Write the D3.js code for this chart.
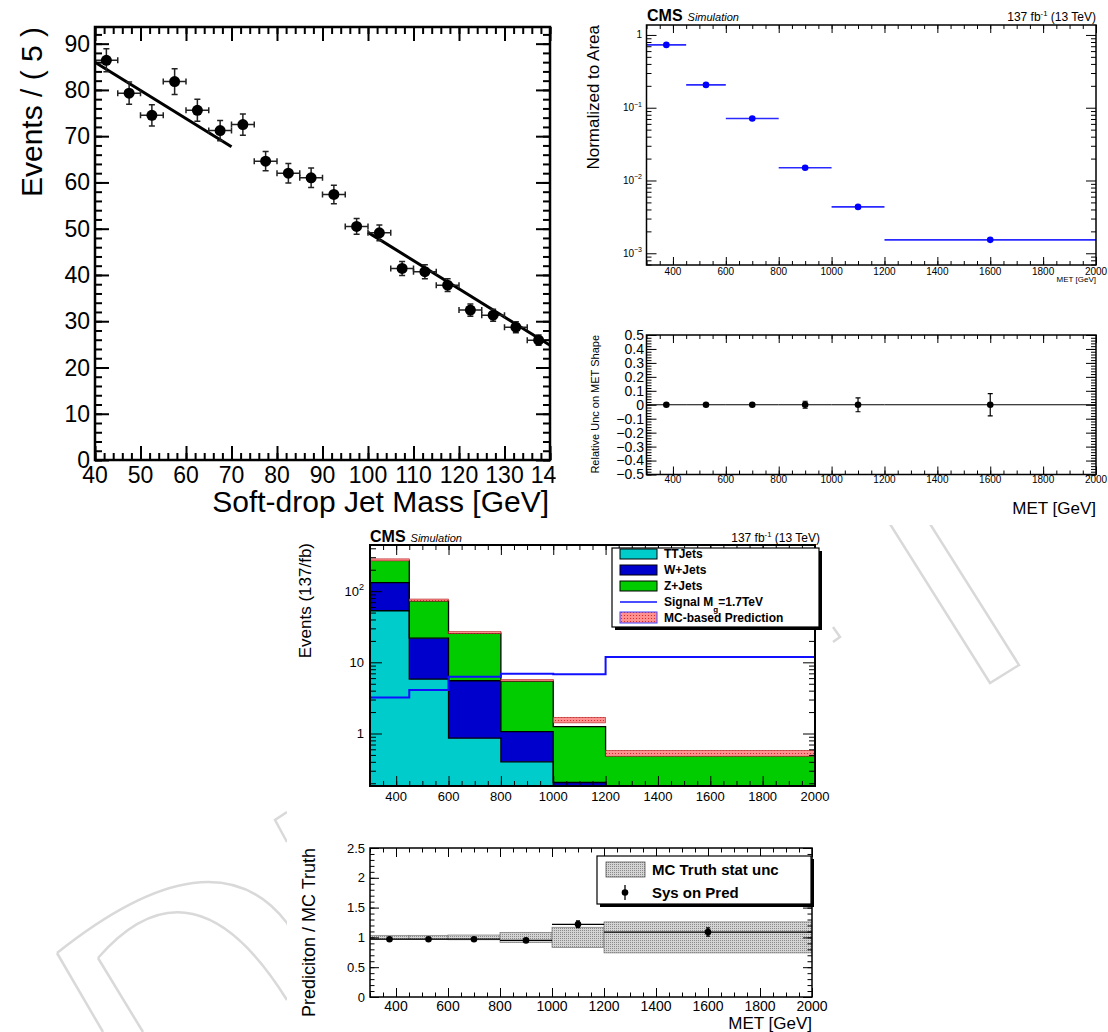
<!DOCTYPE html>
<html>
<head>
<meta charset="utf-8">
<script src="https://cdn.jsdelivr.net/npm/d3@7"></script>
<style>
  body { margin: 0; background: #fff; }
  svg { font-family: "Liberation Sans", Arial, Helvetica, sans-serif; }
</style>
</head>
<body>
<div id="chart"></div>
<script>
// ---------- data ----------
// top-left: soft-drop jet mass, 5 GeV bins
const massCenters = [42.5,47.5,52.5,57.5,62.5,67.5,72.5,77.5,82.5,87.5,92.5,97.5,102.5,107.5,112.5,117.5,122.5,127.5,132.5,137.5];
const massEvents  = [86.4,79.3,74.5,81.8,75.6,71.2,72.5,64.6,62.0,61.0,57.4,50.5,49.1,41.4,40.7,37.8,32.4,31.3,28.7,25.9];
const massErr     = [2.5,2.4,2.3,2.8,2.4,2.2,2.3,2.1,2.1,2.1,2.0,1.7,1.7,1.5,1.5,1.4,1.3,1.3,1.2,1.1];
const fitLow  = [[40, 86.0], [70, 67.7]];
const fitHigh = [[100, 49.2], [140, 24.8]];

// MET binning shared by the other panels
const metEdges   = [300, 450, 600, 800, 1000, 1200, 2000];
const metCenters = [375, 525, 700, 900, 1100, 1600];

// top-right: normalized MET shape and its relative uncertainty
const metShape = [0.73, 0.206, 0.071, 0.015, 0.00434, 0.00153];
const shapeRel = [0, 0, 0, 0, 0, 0];
const shapeUnc = [0.004, 0.004, 0.005, 0.025, 0.05, 0.08];

// middle: stacked backgrounds, signal and prediction
const ttJets = [53, 5.8, 0.85, 0.39, 0.15, 0.08];
const wJets  = [79, 16, 4.65, 0.66, 0.045, 0.05];
const zJets  = [138, 51, 20.1, 4.4, 1.045, 0.35];
const signal = [3.2, 4.07, 6.27, 6.9, 6.78, 11.9];
const prediction = [275, 75, 26.2, 5.6, 1.55, 0.53];
const predErr    = [9, 2.5, 0.8, 0.15, 0.14, 0.05];

// bottom: ratio
const ratio    = [0.97, 0.97, 0.97, 0.95, 1.22, 1.09];
const ratioErr = [0.01, 0.01, 0.01, 0.01, 0.055, 0.07];
const truthUnc = [0.035, 0.035, 0.04, 0.085, 0.17, 0.26];

const stackNames = ["TTJets", "W+Jets", "Z+Jets"];
const stackColors = ["#00cccc", "#0000cc", "#00cc00"];

// ---------- helpers ----------
const svg = d3.select("#chart").append("svg").attr("width", 1108).attr("height", 1032);
const defs = svg.append("defs");

const red = defs.append("pattern").attr("id", "redHatch").attr("width", 3).attr("height", 3).attr("patternUnits", "userSpaceOnUse");
red.append("rect").attr("width", 3).attr("height", 3).attr("fill", "#ff9090");
red.append("rect").attr("width", 1).attr("height", 1).attr("fill", "#e02828");
const gray = defs.append("pattern").attr("id", "grayHatch").attr("width", 2).attr("height", 2).attr("patternUnits", "userSpaceOnUse");
gray.append("rect").attr("width", 2).attr("height", 2).attr("fill", "#d4d4d4");
gray.append("rect").attr("width", 1).attr("height", 1).attr("fill", "#8a8a8a");

function clip(id, x, y, w, h) {
  defs.append("clipPath").attr("id", id).append("rect").attr("x", x).attr("y", y).attr("width", w).attr("height", h);
  return `url(#${id})`;
}

function frameTicks(g, x, y, o) {
  const [xa, xb] = x.range(), [ya, yb] = y.range();
  const sides = [
    [d3.axisBottom(x), `translate(0,${ya})`, o.xMajor, o.xMinor, o.xLen],
    [d3.axisTop(x), `translate(0,${yb})`, o.xMajor, o.xMinor, o.xLen],
    [d3.axisLeft(y), `translate(${xa},0)`, o.yMajor, o.yMinor, o.yLen],
    [d3.axisRight(y), `translate(${xb},0)`, o.yMajor, o.yMinor, o.yLen]
  ];
  sides.forEach(([ax, tr, maj, min, len]) => {
    [[min, len / 2], [maj, len]].forEach(([vals, l]) => {
      g.append("g").attr("transform", tr)
        .call(ax.tickValues(vals).tickSize(-l).tickFormat(""))
        .call(s => s.select(".domain").remove())
        .selectAll("line").attr("stroke", "#000").attr("stroke-width", o.tw || 1);
    });
  });
  g.append("rect").attr("x", xa).attr("y", yb).attr("width", xb - xa).attr("height", ya - yb)
    .attr("fill", "none").attr("stroke", "#000").attr("stroke-width", o.fw || 1.5);
}

function txt(g, x, y, s, o = {}) {
  return g.append("text").attr("x", x).attr("y", y).text(s)
    .attr("font-size", o.size || 12)
    .attr("text-anchor", o.anchor || "start")
    .attr("dy", o.dy || null)
    .attr("font-weight", o.bold ? "bold" : null)
    .attr("font-style", o.italic ? "italic" : null)
    .attr("transform", o.rot ? `rotate(-90,${x},${y})` : null);
}

function supLabel(g, x, y, base, exp, size) {
  const t = g.append("text").attr("x", x).attr("y", y).attr("text-anchor", "end")
    .attr("font-size", size).attr("dy", "0.35em");
  t.append("tspan").text(base);
  if (exp) t.append("tspan").attr("dy", -size * 0.45).attr("font-size", size * 0.7).text(exp);
}

function logMinors(lo, hi) {
  const out = [];
  for (let e = Math.floor(Math.log10(lo)); e <= Math.ceil(Math.log10(hi)); e++)
    for (let m = 2; m <= 9; m++) { const v = m * Math.pow(10, e); if (v > lo && v < hi) out.push(v); }
  return out;
}

function lumiLabel(g, x, y, size) {
  const t = g.append("text").attr("x", x).attr("y", y).attr("text-anchor", "end").attr("font-size", size);
  t.append("tspan").text("137 fb");
  t.append("tspan").attr("dy", -size * 0.45).attr("font-size", size * 0.65).text("-1");
  t.append("tspan").attr("dy", size * 0.45).text(" (13 TeV)");
}

function cmsLabel(g, x, y) {
  const t = g.append("text").attr("x", x).attr("y", y);
  t.append("tspan").attr("font-size", 16).attr("font-weight", "bold").text("CMS");
  t.append("tspan").attr("font-size", 11).attr("font-style", "italic").attr("dx", 5).text("Simulation");
}

function errorBars(g, x, y, xs, ys, yerr, halfW, cap, opt) {
  xs.forEach((c, i) => {
    const cx = x(c), cy = y(ys[i]);
    const xl = x(c - halfW[i]), xr = x(c + halfW[i]);
    const yt = y(ys[i] + yerr[i]), yb = y(ys[i] - yerr[i]);
    const p = d3.path();
    p.moveTo(xl, cy); p.lineTo(xr, cy);
    p.moveTo(cx, yt); p.lineTo(cx, yb);
    if (cap) {
      p.moveTo(cx - cap, yt); p.lineTo(cx + cap, yt);
      p.moveTo(cx - cap, yb); p.lineTo(cx + cap, yb);
      if (opt.xcap) { p.moveTo(xl, cy - cap); p.lineTo(xl, cy + cap); p.moveTo(xr, cy - cap); p.lineTo(xr, cy + cap); }
    }
    g.append("path").attr("d", p.toString()).attr("fill", "none")
      .attr("stroke", opt.color).attr("stroke-width", opt.width);
    g.append("circle").attr("cx", cx).attr("cy", cy).attr("r", opt.r).attr("fill", opt.fill || opt.color);
  });
}

const binHalf = metEdges.slice(0, -1).map((e, i) => (metEdges[i + 1] - e) / 2);
const stepPts = vals => metEdges.map((e, i) => ({ x: e, v: vals[Math.min(i, vals.length - 1)] }));

// ---------- faint watermark behind the pads ----------
const wm = svg.append("g").attr("fill", "none").attr("stroke", "#d9d9d9").attr("stroke-width", 2.5);
["M57,953 Q214,828 287,923 L320,990", "M98,958 Q193,849 287,1000",
 "M57,953 L103,1032", "M98,958 L143,1032", "M287,812 L275,820 L287,842",
 "M856,470 L990,683 L1019,665 L896,470", "M833,627 L840,637 L833,642"]
  .forEach(d => wm.append("path").attr("d", d));

// white pads
[[0, 0, 556, 524], [560, 0, 548, 525], [287, 525, 545, 290], [287, 815, 545, 217]]
  .forEach(([x, y, w, h]) => svg.append("rect").attr("x", x).attr("y", y).attr("width", w).attr("height", h).attr("fill", "#fff"));

// ---------- panel A: soft-drop jet mass ----------
const gA = svg.append("g").attr("clip-path", clip("padA", 0, 0, 556, 525));
const xA = d3.scaleLinear().domain([40, 140]).range([95, 550]);
const yA = d3.scaleLinear().domain([0, 93.6]).range([460, 27]);
const dataA = gA.append("g").attr("clip-path", clip("frameA", 95, 27, 455, 433));
dataA.selectAll(".fit").data([fitLow, fitHigh]).join("path")
  .attr("d", d3.line().x(d => xA(d[0])).y(d => yA(d[1])))
  .attr("fill", "none").attr("stroke", "#000").attr("stroke-width", 3);
errorBars(dataA, xA, yA, massCenters, massEvents, massErr, massCenters.map(() => 2.5), 3,
  { color: "#222", width: 1.5, r: 5.5, xcap: true, fill: "#000" });
frameTicks(gA, xA, yA, {
  xMajor: d3.range(40, 141, 10), xMinor: d3.range(40, 141, 2),
  yMajor: d3.range(0, 91, 10), yMinor: d3.range(0, 93, 2),
  xLen: 14, yLen: 14, tw: 2, fw: 2.5
});
d3.range(40, 141, 10).forEach(v => txt(gA, xA(v), 483, v, { size: 23, anchor: "middle" }));
d3.range(0, 91, 10).forEach(v => txt(gA, 90, yA(v), v, { size: 23, anchor: "end", dy: "0.35em" }));
txt(gA, 42, 27, "Events / ( 5 )", { size: 30, anchor: "end", rot: true });
txt(gA, 549, 512, "Soft-drop Jet Mass [GeV]", { size: 30, anchor: "end" });

// ---------- panel B: normalized MET shape ----------
const gB = svg.append("g");
const xB = d3.scaleLinear().domain([300, 2000]).range([646.5, 1096]);
const yB = d3.scaleLog().domain([0.00069, 1.37]).range([265, 25]);
const dataB = gB.append("g").attr("clip-path", clip("frameB", 646.5, 25, 449.5, 240));
errorBars(dataB, xB, yB, metCenters, metShape, metShape.map(() => 0), binHalf, 0,
  { color: "#2a2aff", width: 1.6, r: 3.3, fill: "#0000ff" });
frameTicks(gB, xB, yB, {
  xMajor: d3.range(400, 2001, 200), xMinor: d3.range(300, 2001, 50),
  yMajor: [0.001, 0.01, 0.1, 1], yMinor: logMinors(0.00069, 1.37),
  xLen: 8, yLen: 10, tw: 1, fw: 1.5
});
d3.range(400, 2001, 200).forEach(v => txt(gB, xB(v), 275, v, { size: 10, anchor: "middle" }));
[[1, "1", null], [0.1, "10", "−1"], [0.01, "10", "−2"], [0.001, "10", "−3"]]
  .forEach(([v, b, e]) => supLabel(gB, 642, yB(v), b, e, 10));
txt(gB, 599, 25, "Normalized to Area", { size: 17, anchor: "end", rot: true });
txt(gB, 1096, 282, "MET [GeV]", { size: 8, anchor: "end" });
cmsLabel(gB, 647, 21);
lumiLabel(gB, 1096, 21, 12);

// ---------- panel C: relative uncertainty on MET shape ----------
const gC = svg.append("g");
const xC = d3.scaleLinear().domain([300, 2000]).range([646.5, 1096]);
const yC = d3.scaleLinear().domain([-0.5, 0.5]).range([474.5, 335]);
const dataC = gC.append("g").attr("clip-path", clip("frameC", 646.5, 335, 449.5, 139.5));
// horizontal error bars span each full bin
metCenters.forEach((c, i) => {
  dataC.append("line").attr("x1", xC(metEdges[i])).attr("x2", xC(metEdges[i + 1]))
    .attr("y1", yC(shapeRel[i])).attr("y2", yC(shapeRel[i])).attr("stroke", "#000").attr("stroke-width", 1.2);
});
errorBars(dataC, xC, yC, metCenters, shapeRel, shapeUnc, metCenters.map(() => 0), 2.5,
  { color: "#000", width: 1.2, r: 3.3 });
frameTicks(gC, xC, yC, {
  xMajor: d3.range(400, 2001, 200), xMinor: d3.range(300, 2001, 50),
  yMajor: d3.range(-5, 6).map(d => d / 10), yMinor: d3.range(-25, 26).map(d => d / 50),
  xLen: 8, yLen: 10, tw: 1, fw: 1.5
});
d3.range(400, 2001, 200).forEach(v => txt(gC, xC(v), 483, v, { size: 10, anchor: "middle" }));
d3.range(-5, 6).map(d => d / 10).forEach(v =>
  txt(gC, 644, yC(v), v === 0 ? "0" : d3.format(".1f")(v), { size: 14, anchor: "end", dy: "0.35em" }));
txt(gC, 599, 335, "Relative Unc on MET Shape", { size: 11, anchor: "end", rot: true });
txt(gC, 1096, 514, "MET [GeV]", { size: 17, anchor: "end" });

// ---------- panel D: stacked MET distribution ----------
const gD = svg.append("g");
const xD = d3.scaleLinear().domain([300, 2000]).range([370, 815]);
const yD = d3.scaleLog().domain([0.183, 445]).range([786, 545]);
const dataD = gD.append("g").attr("clip-path", clip("frameD", 370, 545, 445, 241));
const stackData = [ttJets, wJets, zJets];
let lower = ttJets.map(() => 0.01);
const layers = stackData.map(vals => {
  const upper = vals.map((v, i) => lower[i] + v);
  const layer = { lo: lower, hi: upper };
  lower = upper;
  return layer;
});
layers.forEach((L, k) => {
  const pts = metEdges.map((e, i) => ({ x: e, lo: L.lo[Math.min(i, 5)], hi: L.hi[Math.min(i, 5)] }));
  dataD.append("path").datum(pts)
    .attr("d", d3.area().x(d => xD(d.x)).y0(d => yD(d.lo)).y1(d => yD(d.hi)).curve(d3.curveStepAfter))
    .attr("fill", stackColors[k]);
});
layers.forEach(L => {
  dataD.append("path").datum(stepPts(L.hi))
    .attr("d", d3.line().x(d => xD(d.x)).y(d => yD(d.v)).curve(d3.curveStepAfter))
    .attr("fill", "none").attr("stroke", "#000").attr("stroke-width", 1.3);
});
prediction.forEach((p, i) => {
  dataD.append("rect").attr("x", xD(metEdges[i])).attr("width", xD(metEdges[i + 1]) - xD(metEdges[i]))
    .attr("y", yD(p + predErr[i])).attr("height", yD(p - predErr[i]) - yD(p + predErr[i]))
    .attr("fill", "url(#redHatch)").attr("stroke", "#b02020").attr("stroke-width", 0.6);
});
dataD.append("path").datum(stepPts(signal))
  .attr("d", d3.line().x(d => xD(d.x)).y(d => yD(d.v)).curve(d3.curveStepAfter))
  .attr("fill", "none").attr("stroke", "#1010ff").attr("stroke-width", 2);
frameTicks(gD, xD, yD, {
  xMajor: d3.range(400, 2001, 200), xMinor: d3.range(300, 2001, 50),
  yMajor: [1, 10, 100], yMinor: logMinors(0.183, 445),
  xLen: 10, yLen: 12, tw: 1, fw: 2
});
d3.range(400, 2001, 200).forEach(v => txt(gD, xD(v), 801, v, { size: 13, anchor: "middle" }));
[[1, "1", null], [10, "10", null], [100, "10", "2"]].forEach(([v, b, e]) => supLabel(gD, 364, yD(v), b, e, 13));
txt(gD, 311, 543, "Events (137/fb)", { size: 17, anchor: "end", rot: true });
cmsLabel(gD, 370, 542);
lumiLabel(gD, 820, 542, 12);

// legend D
const lgD = gD.append("g");
lgD.append("rect").attr("x", 615).attr("y", 551).attr("width", 207).attr("height", 79).attr("fill", "#000");
lgD.append("rect").attr("x", 612).attr("y", 548).attr("width", 207).attr("height", 79)
  .attr("fill", "#fff").attr("stroke", "#000").attr("stroke-width", 1.2);
const rowsD = [554, 570, 586, 602, 617.5];
stackNames.forEach((n, k) => {
  lgD.append("rect").attr("x", 620).attr("y", rowsD[k] - 5).attr("width", 37).attr("height", 10)
    .attr("fill", stackColors[k]).attr("stroke", "#000").attr("stroke-width", 1);
  txt(lgD, 664, rowsD[k], n, { size: 12, bold: true, dy: "0.35em" });
});
lgD.append("line").attr("x1", 620).attr("x2", 657).attr("y1", rowsD[3]).attr("y2", rowsD[3])
  .attr("stroke", "#1010ff").attr("stroke-width", 1.5);
const sigT = lgD.append("text").attr("x", 664).attr("y", rowsD[3]).attr("dy", "0.35em")
  .attr("font-size", 12).attr("font-weight", "bold");
sigT.append("tspan").text("Signal M");
sigT.append("tspan").attr("dy", 6).attr("font-size", 8).text("g\u0303");
sigT.append("tspan").attr("dy", -6).text("=1.7TeV");
lgD.append("rect").attr("x", 620).attr("y", rowsD[4] - 5.5).attr("width", 37).attr("height", 11)
  .attr("fill", "url(#redHatch)").attr("stroke", "#4040ff").attr("stroke-width", 1);
txt(lgD, 664, rowsD[4], "MC-based Prediction", { size: 12, bold: true, dy: "0.35em" });

// ---------- panel E: prediction / MC truth ----------
const gE = svg.append("g");
const xE = d3.scaleLinear().domain([300, 2000]).range([370, 812]);
const yE = d3.scaleLinear().domain([0, 2.5]).range([997, 848]);
const dataE = gE.append("g").attr("clip-path", clip("frameE", 370, 848, 442, 149));
truthUnc.forEach((u, i) => {
  dataE.append("rect").attr("x", xE(metEdges[i])).attr("width", xE(metEdges[i + 1]) - xE(metEdges[i]))
    .attr("y", yE(1 + u)).attr("height", yE(1 - u) - yE(1 + u))
    .attr("fill", "url(#grayHatch)").attr("stroke", "#777").attr("stroke-width", 0.7);
});
metCenters.forEach((c, i) => {
  dataE.append("line").attr("x1", xE(metEdges[i])).attr("x2", xE(metEdges[i + 1]))
    .attr("y1", yE(ratio[i])).attr("y2", yE(ratio[i])).attr("stroke", "#000").attr("stroke-width", 1.2);
});
errorBars(dataE, xE, yE, metCenters, ratio, ratioErr, metCenters.map(() => 0), 2,
  { color: "#000", width: 1.3, r: 3.3 });
frameTicks(gE, xE, yE, {
  xMajor: d3.range(400, 2001, 200), xMinor: d3.range(300, 2001, 50),
  yMajor: d3.range(0, 6).map(d => d / 2), yMinor: d3.range(0, 26).map(d => d / 10),
  xLen: 9, yLen: 9, tw: 1, fw: 1.5
});
d3.range(400, 2001, 200).forEach(v => txt(gE, xE(v), 1011, v, { size: 14, anchor: "middle" }));
d3.range(0, 6).map(d => d / 2).forEach(v => txt(gE, 365, yE(v), v, { size: 13, anchor: "end", dy: "0.35em" }));
txt(gE, 315, 848, "Prediciton / MC Truth", { size: 18, anchor: "end", rot: true });
txt(gE, 812, 1029, "MET [GeV]", { size: 17, anchor: "end" });

// legend E
const lgE = gE.append("g");
lgE.append("rect").attr("x", 600).attr("y", 859).attr("width", 214).attr("height", 48).attr("fill", "#000");
lgE.append("rect").attr("x", 597).attr("y", 856).attr("width", 214).attr("height", 48)
  .attr("fill", "#fff").attr("stroke", "#000").attr("stroke-width", 1.2);
lgE.append("rect").attr("x", 606).attr("y", 862).attr("width", 39).attr("height", 15)
  .attr("fill", "url(#grayHatch)").attr("stroke", "#555").attr("stroke-width", 0.8);
txt(lgE, 652, 869.5, "MC Truth stat unc", { size: 15, bold: true, dy: "0.35em" });
lgE.append("line").attr("x1", 625).attr("x2", 625).attr("y1", 885).attr("y2", 900).attr("stroke", "#000").attr("stroke-width", 1.3);
lgE.append("circle").attr("cx", 625).attr("cy", 892.5).attr("r", 3.3).attr("fill", "#000");
txt(lgE, 652, 892.5, "Sys on Pred", { size: 15, bold: true, dy: "0.35em" });
</script>
</body>
</html>
